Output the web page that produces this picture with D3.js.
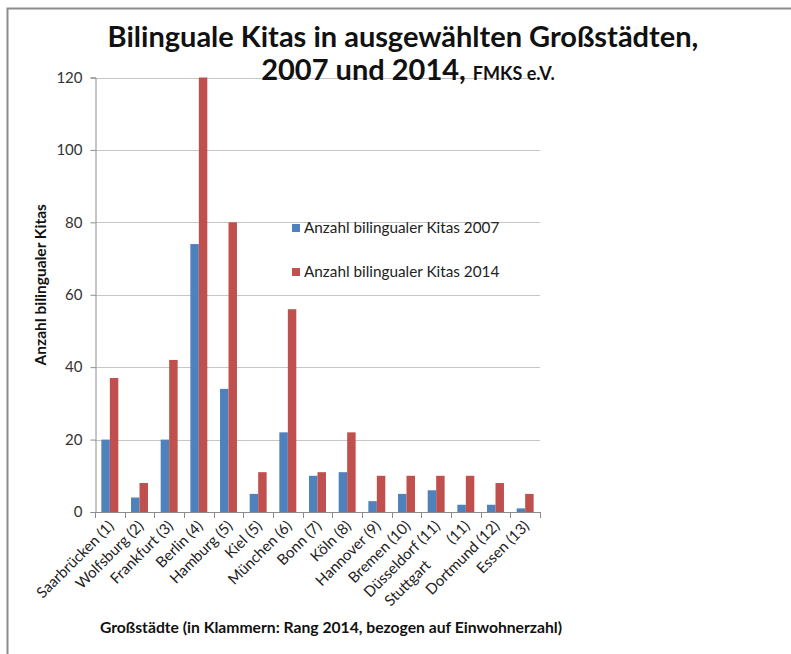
<!DOCTYPE html>
<html>
<head>
<meta charset="utf-8">
<script src="https://cdn.jsdelivr.net/npm/d3@7"></script>
<style>
  body { margin: 0; background: #fff; }
  svg { display: block; font-family: Lato, "Liberation Sans", sans-serif; }
</style>
</head>
<body>
<svg id="chart" width="791" height="654"></svg>
<script>
// chart data
var cities = ['Saarbrücken (1)', 'Wolfsburg (2)', 'Frankfurt (3)', 'Berlin (4)', 'Hamburg (5)',
  'Kiel (5)', 'München (6)', 'Bonn (7)', 'Köln (8)', 'Hannover (9)', 'Bremen (10)',
  'Düsseldorf (11)', 'Stuttgart (11)', 'Dortmund (12)', 'Essen (13)'];
var kitas2007 = [20, 4, 20, 74, 34, 5, 22, 10, 11, 3, 5, 6, 2, 2, 1];
var kitas2014 = [37, 8, 42, 120, 80, 11, 56, 11, 22, 10, 10, 10, 10, 8, 5];
var seriesNames = ['Anzahl bilingualer Kitas 2007', 'Anzahl bilingualer Kitas 2014'];
var yTicks = [0, 20, 40, 60, 80, 100, 120];

var colors = ['#4f81bd', '#c0504d'];

var svg = d3.select('#chart');

// outer frame (only top and left edge visible)
svg.append('path')
  .attr('d', 'M7.5,654 V8.5 H791')
  .attr('fill', 'none')
  .attr('stroke', '#8c8c8c')
  .attr('stroke-width', 2);

var plot = { left: 95, right: 540, top: 77.5, bottom: 512 };

var x = d3.scaleBand()
  .domain(cities)
  .range([plot.left, plot.right])
  .paddingInner(0)
  .paddingOuter(0);

var inner = d3.scaleBand()
  .domain([0, 1])
  .range([0, x.bandwidth()])
  .paddingInner(0)
  .paddingOuter(0.75);

var y = d3.scaleLinear()
  .domain([0, 120])
  .range([plot.bottom, plot.top]);

// gridlines
svg.append('g')
  .selectAll('line')
  .data(yTicks.slice(1))
  .join('line')
  .attr('x1', plot.left)
  .attr('x2', plot.right)
  .attr('y1', function (d) { return Math.round(y(d)) + 0.5; })
  .attr('y2', function (d) { return Math.round(y(d)) + 0.5; })
  .attr('stroke', '#c6c6c6')
  .attr('stroke-width', 1);

// bars
var rows = cities.map(function (c, i) {
  return { city: c, values: [kitas2007[i], kitas2014[i]] };
});

var groups = svg.append('g')
  .selectAll('g')
  .data(rows)
  .join('g')
  .attr('transform', function (d) { return 'translate(' + x(d.city) + ',0)'; });

groups.selectAll('rect')
  .data(function (d) { return d.values.map(function (v, k) { return { k: k, v: Math.min(v, 120) }; }); })
  .join('rect')
  .attr('x', function (d) { return inner(d.k); })
  .attr('width', inner.bandwidth())
  .attr('y', function (d) { return y(d.v); })
  .attr('height', function (d) { return y(0) - y(d.v); })
  .attr('fill', function (d) { return colors[d.k]; });

// y axis
var yAxis = svg.append('g')
  .attr('transform', 'translate(' + (plot.left + 0.5) + ',0)')
  .call(d3.axisLeft(y).tickValues(yTicks).tickSize(5).tickPadding(8));
yAxis.select('.domain').attr('stroke', '#8c8c8c');
yAxis.selectAll('.tick line').attr('stroke', '#8c8c8c');
yAxis.selectAll('.tick text')
  .attr('fill', '#333')
  .style('font-size', '15px')
  .style('font-family', 'Lato, sans-serif');

// x axis: line + ticks at category boundaries
var xg = svg.append('g');
xg.append('line')
  .attr('x1', plot.left)
  .attr('x2', plot.right)
  .attr('y1', plot.bottom + 0.5)
  .attr('y2', plot.bottom + 0.5)
  .attr('stroke', '#8c8c8c');
var bounds = cities.map(function (c) { return x(c); }).concat([plot.right]);
xg.selectAll('line.tk')
  .data(bounds)
  .join('line')
  .attr('class', 'tk')
  .attr('x1', function (d) { return Math.round(d) + 0.5; })
  .attr('x2', function (d) { return Math.round(d) + 0.5; })
  .attr('y1', plot.bottom)
  .attr('y2', plot.bottom + 6)
  .attr('stroke', '#8c8c8c');

// rotated category labels
xg.selectAll('text.cat')
  .data(cities)
  .join('text')
  .attr('class', 'cat')
  .attr('transform', function (d) {
    return 'translate(' + (x(d) + x.bandwidth() / 2 + 5) + ',' + (plot.bottom + 15) + ') rotate(-45)';
  })
  .attr('text-anchor', 'end')
  .attr('fill', '#222')
  .style('font-size', '15px')
  .each(function (d) {
    var t = d3.select(this);
    if (d === 'Stuttgart (11)') {
      t.append('tspan').text('Stuttgart');
      t.append('tspan').attr('dx', 30).text('(11)');
    } else {
      t.text(d);
    }
  });

// title
var title = svg.append('text')
  .attr('text-anchor', 'middle')
  .attr('font-weight', 'bold')
  .attr('fill', '#111');
title.append('tspan')
  .attr('x', 403)
  .attr('y', 47)
  .style('font-size', '29px')
  .text('Bilinguale Kitas in ausgewählten Großstädten,');
title.append('tspan')
  .attr('x', 408)
  .attr('y', 80)
  .style('font-size', '29px')
  .text('2007 und 2014, ')
  .append('tspan')
  .style('font-size', '18px')
  .text('FMKS e.V.');

// axis titles
svg.append('text')
  .attr('transform', 'translate(46,' + ((plot.top + plot.bottom) / 2 - 10) + ') rotate(-90)')
  .attr('text-anchor', 'middle')
  .attr('font-weight', 'bold')
  .attr('fill', '#111')
  .style('font-size', '15.5px')
  .text('Anzahl bilingualer Kitas');

svg.append('text')
  .attr('x', 331)
  .attr('y', 633)
  .attr('text-anchor', 'middle')
  .attr('font-weight', 'bold')
  .attr('fill', '#111')
  .style('font-size', '15.7px')
  .text('Großstädte (in Klammern: Rang 2014, bezogen auf Einwohnerzahl)');

// legend
var legend = svg.append('g')
  .selectAll('g')
  .data(seriesNames)
  .join('g')
  .attr('transform', function (d, i) { return 'translate(292,' + (228 + i * 44) + ')'; });
legend.append('rect')
  .attr('x', 0)
  .attr('y', -4)
  .attr('width', 8)
  .attr('height', 8)
  .attr('fill', function (d, i) { return colors[i]; });
legend.append('text')
  .attr('x', 12)
  .attr('y', 5)
  .attr('fill', '#222')
  .style('font-size', '15.3px')
  .text(function (d) { return d; });
</script>
</body>
</html>
